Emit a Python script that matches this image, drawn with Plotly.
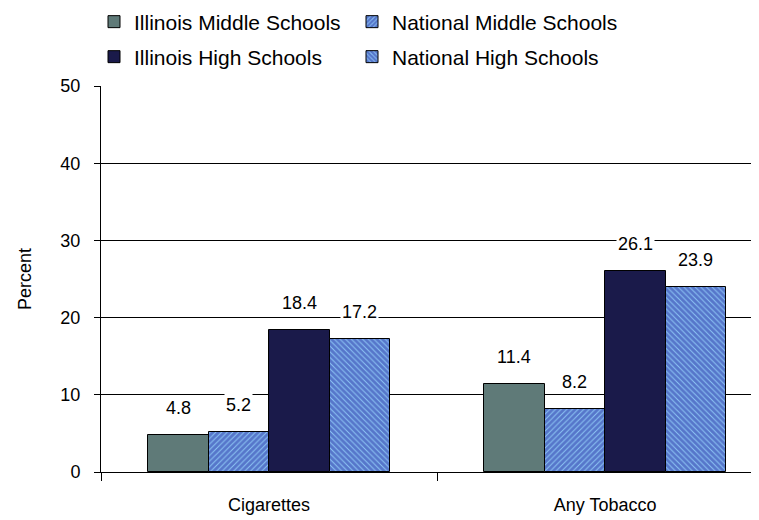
import plotly.graph_objects as go

categories = ["Cigarettes", "Any Tobacco"]
series_names = ["Illinois Middle Schools", "National Middle Schools",
                "Illinois High Schools", "National High Schools"]
il_middle = [4.8, 11.4]
nat_middle = [5.2, 8.2]
il_high = [18.4, 26.1]
nat_high = [17.2, 23.9]
y_ticks = [0, 10, 20, 30, 40, 50]

values = [il_middle, nat_middle, il_high, nat_high]
FG, BG = "#2028a0", "#8cc4f4"
styles = [
    dict(color="#5f7a78"),
    dict(color=BG, pattern=dict(shape="/", fgcolor=FG, bgcolor=BG, size=4, solidity=0.75)),
    dict(color="#1a1a4a"),
    dict(color=BG, pattern=dict(shape="\\", fgcolor=FG, bgcolor=BG, size=4, solidity=0.75)),
]
legend_ids = ["legend", "legend2", "legend3", "legend4"]

bar_w = 0.18
offsets = [-1.5, -0.5, 0.5, 1.5]
xs = list(range(len(categories)))

W, H = 751, 512

fig = go.Figure()
for name, vals, st, off, lg in zip(series_names, values, styles, offsets, legend_ids):
    fig.add_trace(go.Bar(
        x=[x + off * bar_w for x in xs], y=vals, name=name, width=bar_w,
        marker=dict(**st, line=dict(color="black", width=1)), legend=lg,
    ))
    for x, v in zip(xs, vals):
        fig.add_annotation(x=x + off * bar_w, y=v, text=f"{v:.1f}", showarrow=False,
                           yanchor="middle", yshift=27, bgcolor="white",
                           font=dict(size=18, color="black", family="Liberation Sans"),
                           borderpad=1)

legend_common = dict(orientation="h", xref="container", xanchor="left",
                     yref="container", yanchor="middle",
                     font=dict(size=21, family="Liberation Sans", color="black"),
                     bgcolor="rgba(0,0,0,0)")
col_x = [86 / W, 344 / W]
row_y = [1 - 14 / H, 1 - 49 / H]

fig.update_layout(
    width=W, height=H,
    margin=dict(l=93, r=0, t=78, b=48, autoexpand=False),
    plot_bgcolor="white", paper_bgcolor="white",
    font=dict(family="Liberation Sans", color="black", size=18),
    barmode="overlay", bargap=0,
    showlegend=True,
    legend=dict(**legend_common, x=col_x[0], y=row_y[0]),
    legend2=dict(**legend_common, x=col_x[1], y=row_y[0]),
    legend3=dict(**legend_common, x=col_x[0], y=row_y[1]),
    legend4=dict(**legend_common, x=col_x[1], y=row_y[1]),
    yaxis=dict(range=[0, 50], tickvals=y_ticks, showgrid=True, gridcolor="black", gridwidth=1,
               showline=True, linecolor="black", linewidth=1, ticks="outside", ticklen=6,
               tickcolor="black", zeroline=False, automargin=False, ticklabelstandoff=10,
               title=dict(text="Percent", font=dict(size=18), standoff=24),
               tickfont=dict(size=18)),
    xaxis=dict(range=[-0.5, 1.458], tickvals=xs, ticktext=categories, ticks="",
               showline=True, linecolor="black", linewidth=1, showgrid=False, zeroline=False,
               tickfont=dict(size=18), automargin=False, ticklabelstandoff=16,
               minor=dict(tickvals=[-0.5, 0.5, 1.5], ticks="outside", ticklen=8, tickcolor="black")),
)

fig.write_html("out.html")
